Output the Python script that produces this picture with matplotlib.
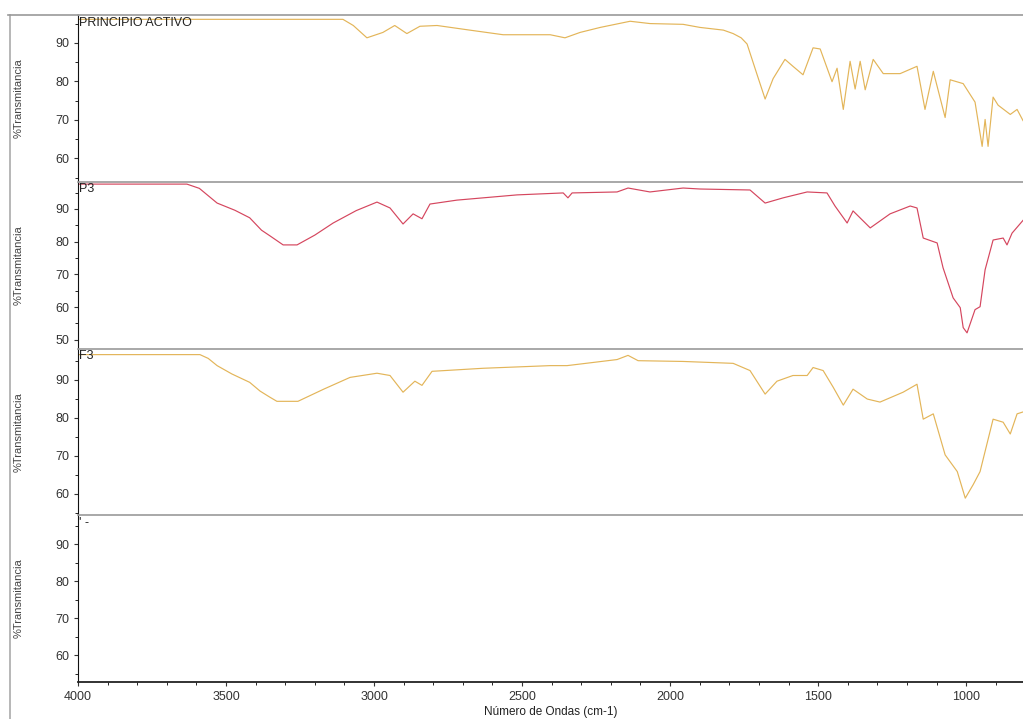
import matplotlib.pyplot as plt
from matplotlib.lines import Line2D
from matplotlib.ticker import MultipleLocator

plt.rcParams['font.family'] = ['Liberation Sans', 'DejaVu Sans']

# espectros (numero de onda, %T)
pa_x = [4000, 3105, 3070, 3024, 2970, 2930, 2889, 2845, 2787, 2686, 2564, 2405, 2355, 2304, 2236,
        2135, 2068, 1956, 1899, 1820, 1787, 1760, 1740, 1706, 1679, 1652, 1612, 1585, 1551, 1517, 1493,
        1453, 1436, 1415, 1392, 1375, 1358, 1341, 1314, 1280, 1223, 1166, 1139, 1111, 1071,
        1054, 1010, 970, 946, 936, 926, 909, 892, 851, 828, 808]
pa_y = [96.1, 96.1, 94.5, 91.3, 92.7, 94.5, 92.4, 94.3, 94.5, 93.4, 92.1, 92.1, 91.3, 92.7, 94.0,
        95.6, 95.0, 94.8, 94.0, 93.3, 92.4, 91.3, 89.7, 81.7, 75.4, 80.7, 85.7, 83.9, 81.7, 88.7, 88.4,
        79.9, 83.4, 72.7, 85.2, 78.0, 85.2, 77.8, 85.7, 82.0, 82.0, 83.9, 72.7, 82.6, 70.6,
        80.4, 79.4, 74.6, 63.1, 70.1, 63.1, 75.9, 73.8, 71.4, 72.7, 69.8]

p3_x = [4000, 3632, 3590, 3530, 3470, 3420, 3380, 3352, 3307, 3260, 3200, 3138, 3060, 2990, 2946,
        2902, 2868, 2838, 2811, 2720, 2517, 2361, 2345, 2331, 2179, 2142, 2068, 1956, 1899, 1730,
        1679, 1618, 1537, 1470, 1443, 1402, 1382, 1324, 1257, 1189, 1166, 1145, 1098, 1078, 1044,
        1020, 1010, 997, 970, 953, 936, 909, 875, 862, 845, 808]
p3_y = [97.6, 97.6, 96.3, 91.8, 89.6, 87.3, 83.5, 81.8, 79.0, 79.0, 82.0, 85.7, 89.5, 92.1, 90.3,
        85.4, 88.5, 87.0, 91.5, 92.7, 94.3, 94.9, 93.4, 94.9, 95.2, 96.4, 95.2, 96.4, 96.1, 95.8,
        91.8, 93.4, 95.2, 94.9, 90.9, 85.7, 89.4, 84.2, 88.5, 90.9, 90.3, 81.1, 79.6, 72.0, 62.8,
        59.8, 53.7, 52.1, 59.2, 60.1, 71.4, 80.5, 81.1, 79.0, 82.6, 86.5]

f3_x = [4000, 3588, 3560, 3530, 3480, 3420, 3385, 3352, 3328, 3257, 3170, 3081, 2990, 2946, 2902,
        2862, 2838, 2804, 2632, 2405, 2348, 2179, 2142, 2108, 1956, 1787, 1730, 1679, 1639, 1585,
        1537, 1517, 1483, 1449, 1415, 1382, 1334, 1291, 1213, 1166, 1145, 1111, 1071, 1030, 1003,
        976, 953, 909, 875, 851, 828, 808]
f3_y = [96.6, 96.6, 95.6, 93.7, 91.5, 89.3, 87.0, 85.4, 84.3, 84.3, 87.5, 90.6, 91.7, 91.1, 86.7,
        89.6, 88.5, 92.2, 93.0, 93.7, 93.7, 95.3, 96.4, 95.0, 94.8, 94.3, 92.4, 86.2, 89.6, 91.1,
        91.1, 93.2, 92.4, 88.0, 83.3, 87.5, 84.9, 84.1, 86.7, 88.8, 79.6, 81.0, 70.2, 65.8, 58.8,
        62.4, 65.8, 79.6, 78.8, 75.7, 81.0, 81.5]

etiquetas = ['PRINCIPIO ACTIVO', 'P3', 'F3', "' -"]
series = [(pa_x, pa_y, '#e3b559'), (p3_x, p3_y, '#d5465e'), (f3_x, f3_y, '#e3b559'), None]
limites = [(53.9, 97.2), (47.3, 98.3), (54.3, 98.2), (52.8, 97.9)]

fig, axs = plt.subplots(4, 1, sharex=True, figsize=(10.23, 7.19), dpi=100)
fig.subplots_adjust(left=0.0762, right=1.0, top=0.979, bottom=0.0515, hspace=0)

for i, ax in enumerate(axs):
    if series[i] is not None:
        x, y, c = series[i]
        ax.plot(x, y, color=c, lw=0.85)
    ax.set_ylim(*limites[i])
    ax.yaxis.set_major_locator(MultipleLocator(10))
    ax.yaxis.set_minor_locator(MultipleLocator(5))
    ax.tick_params(axis='y', labelsize=9, length=3, color='#333333', labelcolor='#333333')
    ax.tick_params(axis='y', which='minor', length=2)
    ax.set_ylabel('%Transmitancia', fontsize=8, color='#444444')
    ax.yaxis.set_label_coords(-0.057, 0.5)
    ax.spines['right'].set_visible(False)
    ax.spines['top'].set_color('#999999')
    ax.spines['top'].set_linewidth(1.2)
    ax.spines['left'].set_color('#111111')
    if i < 3:
        ax.spines['bottom'].set_visible(False)
        ax.tick_params(axis='x', which='both', bottom=False)
    ax.text(0.001, 0.99, etiquetas[i], transform=ax.transAxes, fontsize=9,
            va='top', ha='left', color='#222222')

axs[-1].set_xlim(4000, 808)
axs[-1].xaxis.set_major_locator(MultipleLocator(500))
axs[-1].xaxis.set_minor_locator(MultipleLocator(100))
axs[-1].tick_params(axis='x', labelsize=9, length=3, color='#333333', labelcolor='#333333')
axs[-1].tick_params(axis='x', which='minor', length=2)
axs[-1].spines['bottom'].set_color('#222222')
axs[-1].spines['bottom'].set_linewidth(1.3)
axs[-1].set_xlabel('Número de Ondas (cm-1)', fontsize=8.5, color='#222222', labelpad=2)

# marco exterior gris
fig.add_artist(Line2D([10 / 1023, 10 / 1023], [0, 1 - 15 / 719], color='#aaaaaa', lw=1.2))
fig.add_artist(Line2D([8 / 1023, 78 / 1023], [1 - 15 / 719, 1 - 15 / 719], color='#999999', lw=1.2))

fig.savefig('out.png', dpi=100)
